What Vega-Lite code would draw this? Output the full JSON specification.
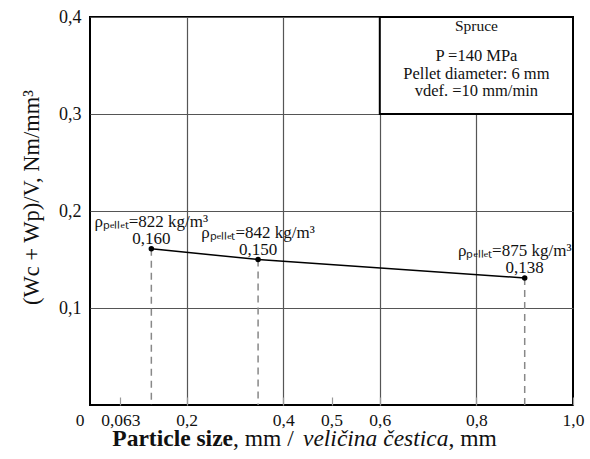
{
  "$schema": "https://vega.github.io/schema/vega-lite/v6.json",
  "width": 483,
  "height": 388,
  "autosize": "none",
  "padding": {"left": 90, "top": 17, "right": 17, "bottom": 54},
  "background": "white",
  "config": {
    "font": "Liberation Serif",
    "view": {"stroke": "#000", "strokeWidth": 2}
  },
  "datasets": {
    "pts": [
      {"size": 0.127, "energy": 0.161, "rho": "ρₚₑₗₗₑₜ=822 kg/m³", "val": "0,160"},
      {"size": 0.348, "energy": 0.150, "rho": "ρₚₑₗₗₑₜ=842 kg/m³", "val": "0,150"},
      {"size": 0.900, "energy": 0.131, "rho": "ρₚₑₗₗₑₜ=875 kg/m³", "val": "0,138"}
    ]
  },
  "data": {"name": "pts"},
  "layer": [
    {
      "mark": {"type": "rule", "color": "#888", "strokeWidth": 1.5, "strokeDash": [7, 5]},
      "encoding": {
        "x": {
          "field": "size", "type": "quantitative",
          "scale": {"domain": [0, 1], "nice": false, "zero": false},
          "axis": {
            "values": [0, 0.063, 0.2, 0.4, 0.5, 0.6, 0.8, 1.0],
            "title": null,
            "domain": false,
            "grid": true,
            "gridColor": {"condition": {"test": "datum.value==0.2||datum.value==0.4||datum.value==0.6||datum.value==0.8", "value": "#555"}, "value": "transparent"},
            "gridWidth": 1.2,
            "tickColor": {"condition": {"test": "datum.value==0", "value": "transparent"}, "value": "#999"},
            "tickSize": -8,
            "tickWidth": 1.2,
            "labelExpr": "datum.value==0.063 ? '0,063' : (datum.value==0 ? '0' : replace(format(datum.value,'.1f'),'.',','))",
            "labelFont": "Liberation Serif",
            "labelFontSize": 17.5,
            "labelColor": "#111",
            "labelAlign": {"condition": {"test": "datum.value==0", "value": "right"}, "value": "center"},
            "labelOffset": {"condition": {"test": "datum.value==0", "value": -6}, "value": 0},
            "labelFlush": false,
            "labelOverlap": false,
            "labelPadding": 14
          }
        },
        "y": {
          "field": "energy", "type": "quantitative",
          "scale": {"domain": [0, 0.4], "nice": false},
          "axis": {
            "values": [0.1, 0.2, 0.3, 0.4],
            "title": "(Wc + Wp)/V, Nm/mm³",
            "titleFont": "Liberation Serif",
            "titleFontSize": 22.5,
            "titleFontWeight": "normal",
            "titleColor": "#111",
            "titlePadding": 15,
            "titleY": 180,
            "domain": false,
            "ticks": false,
            "grid": true,
            "gridColor": "#555",
            "gridWidth": 1.2,
            "labelExpr": "replace(format(datum.value,'.1f'),'.',',')",
            "labelFont": "Liberation Serif",
            "labelFontSize": 18,
            "labelColor": "#111",
            "labelPadding": 9
          }
        },
        "y2": {"datum": 0}
      }
    },
    {
      "data": {"values": [{}]},
      "mark": {"type": "rect", "fill": "white", "stroke": "#000", "strokeWidth": 2},
      "encoding": {
        "x": {"datum": 0.6}, "x2": {"datum": 1.0},
        "y": {"datum": 0.3}, "y2": {"datum": 0.4}
      }
    },
    {
      "mark": {"type": "line", "color": "#000", "strokeWidth": 1.5},
      "encoding": {
        "x": {"field": "size", "type": "quantitative"},
        "y": {"field": "energy", "type": "quantitative"}
      }
    },
    {
      "mark": {"type": "point", "filled": true, "color": "#000", "size": 30, "opacity": 1},
      "encoding": {
        "x": {"field": "size", "type": "quantitative"},
        "y": {"field": "energy", "type": "quantitative"}
      }
    },
    {
      "mark": {"type": "text", "font": "Liberation Serif", "fontSize": 17, "color": "#111", "baseline": "middle", "dy": -10},
      "encoding": {
        "x": {"field": "size", "type": "quantitative"},
        "y": {"field": "energy", "type": "quantitative"},
        "text": {"field": "val"}
      }
    },
    {
      "transform": [{"filter": "datum.size < 0.8"}],
      "mark": {"type": "text", "font": "Liberation Serif", "fontSize": 17, "color": "#111", "baseline": "middle", "dy": -27},
      "encoding": {
        "x": {"field": "size", "type": "quantitative"},
        "y": {"field": "energy", "type": "quantitative"},
        "text": {"field": "rho"}
      }
    },
    {
      "transform": [{"filter": "datum.size >= 0.8"}],
      "mark": {"type": "text", "font": "Liberation Serif", "fontSize": 17, "color": "#111", "baseline": "middle", "dy": -27, "dx": -10},
      "encoding": {
        "x": {"field": "size", "type": "quantitative"},
        "y": {"field": "energy", "type": "quantitative"},
        "text": {"field": "rho"}
      }
    },
    {
      "data": {"values": [{}]},
      "mark": {"type": "text", "font": "Liberation Serif", "fontSize": 15.5, "color": "#111", "baseline": "middle"},
      "encoding": {
        "x": {"datum": 0.8}, "y": {"datum": 0.391},
        "text": {"value": "Spruce"}
      }
    },
    {
      "data": {"values": [{}]},
      "mark": {"type": "text", "font": "Liberation Serif", "fontSize": 16.5, "color": "#111", "baseline": "top", "lineHeight": 17.5},
      "encoding": {
        "x": {"datum": 0.8}, "y": {"datum": 0.368},
        "text": {"value": ["P =140 MPa", "Pellet diameter: 6 mm", "vdef. =10 mm/min"]}
      }
    },
    {
      "data": {"values": [{}]},
      "mark": {"type": "text", "font": "Liberation Serif", "fontSize": 23.5, "fontWeight": "bold", "color": "#111", "align": "right", "baseline": "alphabetic"},
      "encoding": {
        "x": {"datum": 0.2961}, "y": {"datum": -0.0423},
        "text": {"value": "Particle size"}
      }
    },
    {
      "data": {"values": [{}]},
      "mark": {"type": "text", "font": "Liberation Serif", "fontSize": 23.5, "color": "#111", "align": "left", "baseline": "alphabetic"},
      "encoding": {
        "x": {"datum": 0.2961}, "y": {"datum": -0.0423},
        "text": {"value": ", mm / "}
      }
    },
    {
      "data": {"values": [{}]},
      "mark": {"type": "text", "font": "Liberation Serif", "fontSize": 23.5, "fontStyle": "italic", "color": "#111", "align": "right", "baseline": "alphabetic"},
      "encoding": {
        "x": {"datum": 0.7422}, "y": {"datum": -0.0423},
        "text": {"value": "veličina čestica"}
      }
    },
    {
      "data": {"values": [{}]},
      "mark": {"type": "text", "font": "Liberation Serif", "fontSize": 23.5, "color": "#111", "align": "left", "baseline": "alphabetic"},
      "encoding": {
        "x": {"datum": 0.7422}, "y": {"datum": -0.0423},
        "text": {"value": ", mm"}
      }
    }
  ]
}
